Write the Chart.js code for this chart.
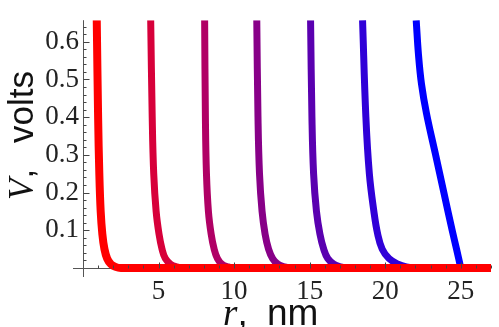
<!DOCTYPE html>
<html lang="en">
<head>
  <meta charset="UTF-8" />
  <title>V versus r</title>
  <script src="https://cdn.jsdelivr.net/npm/chart.js"></script>
  <style>
    html, body { margin: 0; padding: 0; background: #fff; }
    #potentialChart { display: block; }
  </style>
</head>
<body>
  <canvas id="potentialChart" width="499" height="327"></canvas>

  <script>
    const vLevels = [0.657, 0.4, 0.25, 0.15, 0.09, 0.05, 0.025, 0.01, 0.003, 0];

    // radius r (nm) of each curve at the voltage levels above
    const rCurve1 = [0.91, 1.0, 1.08, 1.17, 1.28, 1.42, 1.6, 1.85, 2.15, 2.5];
    const rCurve2 = [4.48, 4.58, 4.68, 4.84, 5.03, 5.23, 5.45, 5.8, 6.2, 6.6];
    const rCurve3 = [8.05, 8.1, 8.17, 8.3, 8.48, 8.68, 8.9, 9.2, 9.6, 10.0];
    const rCurve4 = [11.5, 11.58, 11.68, 11.85, 12.05, 12.28, 12.55, 12.9, 13.35, 13.8];
    const rCurve5 = [15.06, 15.15, 15.26, 15.45, 15.68, 15.93, 16.2, 16.6, 17.05, 17.5];
    const rCurve6 = [18.5, 18.72, 18.95, 19.25, 19.5, 19.8, 20.25, 20.85, 21.4, 22.0];

    // the blue curve is read at its own levels
    const vCurve7 = [0.657, 0.566, 0.488, 0.41, 0.306, 0.2, 0.1, 0.05, 0];
    const rCurve7 = [22.05, 22.2, 22.4, 22.73, 23.3, 23.88, 24.43, 24.72, 25.0];

    // flat tail along V = 0 out to the right edge (curves 1-6)
    const rTailEnd = 27;

    const curveColors = ['#ff0000', '#d7003a', '#b00065', '#880088', '#5a00b0', '#3000d8', '#0000ff'];

    const xTickLabels = [5, 10, 15, 20, 25];
    const yTickLabels = [0.1, 0.2, 0.3, 0.4, 0.5, 0.6];

    const xMin = 0, xMax = 27;
    const yMin = 0, yMax = 0.657;

    function toPoints(rs, vs, withTail) {
      const pts = rs.map((r, i) => ({ x: r, y: vs[i] }));
      if (withTail) pts.push({ x: rTailEnd, y: 0 });
      return pts;
    }

    const curves = [
      toPoints(rCurve1, vLevels, true),
      toPoints(rCurve2, vLevels, true),
      toPoints(rCurve3, vLevels, true),
      toPoints(rCurve4, vLevels, true),
      toPoints(rCurve5, vLevels, true),
      toPoints(rCurve6, vLevels, true),
      toPoints(rCurve7, vCurve7, false)
    ];

    // first dataset is drawn on top, so red sits over the baseline
    const datasets = curves.map((pts, i) => ({
      data: pts,
      borderColor: curveColors[i],
      borderWidth: i === 0 ? 8 : 7,
      pointRadius: 0,
      fill: false,
      tension: 0.4,
      clip: { left: 10, top: 0, right: 0, bottom: 10 }
    }));

    const axesPlugin = {
      id: 'mathAxes',
      beforeDatasetsDraw(chart) {
        const { ctx, chartArea, scales: { x, y } } = chart;
        const x0 = Math.round(x.getPixelForValue(0)) + 0.5;
        const y0 = Math.round(y.getPixelForValue(0)) + 0.5;
        ctx.save();
        ctx.strokeStyle = '#555';
        ctx.lineWidth = 1;
        ctx.beginPath();
        ctx.moveTo(chartArea.left - 10, y0);
        ctx.lineTo(chartArea.right, y0);
        ctx.moveTo(x0, chartArea.top);
        ctx.lineTo(x0, chartArea.bottom + 9);
        ctx.stroke();
        ctx.restore();
      },
      afterDatasetsDraw(chart) {
        const { ctx, scales: { x, y } } = chart;
        const x0 = Math.round(x.getPixelForValue(0)) + 0.5;
        const y0 = Math.round(y.getPixelForValue(0)) + 0.5;
        ctx.save();
        ctx.strokeStyle = '#444';
        ctx.lineWidth = 1;
        ctx.beginPath();
        x.ticks.forEach(t => {
          if (t.value <= 0) return;
          const px = Math.round(x.getPixelForValue(t.value)) + 0.5;
          const len = xTickLabels.includes(t.value) ? 6 : 3;
          ctx.moveTo(px, y0);
          ctx.lineTo(px, y0 - len);
        });
        y.ticks.forEach(t => {
          if (t.value <= 0) return;
          const py = Math.round(y.getPixelForValue(t.value)) + 0.5;
          const major = yTickLabels.some(v => Math.abs(v - t.value) < 1e-6);
          ctx.moveTo(x0, py);
          ctx.lineTo(x0 + (major ? 6 : 3), py);
        });
        ctx.stroke();
        ctx.restore();
      },
      afterDraw(chart) {
        const { ctx, chartArea } = chart;
        ctx.save();
        ctx.fillStyle = '#111';
        ctx.textBaseline = 'alphabetic';

        // x title: "r, nm"
        let tx = chartArea.left + 140;
        const ty = 325;
        ctx.font = 'italic 37px "Liberation Serif", "DejaVu Serif", serif';
        ctx.fillText('r', tx, ty);
        tx += ctx.measureText('r').width;
        ctx.font = '37px "Liberation Sans", "DejaVu Sans", sans-serif';
        ctx.fillText(',', tx, ty);
        ctx.fillText('nm', chartArea.left + 184, ty);

        // y title: "V, volts" rotated
        ctx.translate(33, 200);
        ctx.rotate(-Math.PI / 2);
        ctx.font = 'italic 35px "Liberation Serif", "DejaVu Serif", serif';
        ctx.fillText('V', 0, 0);
        const w = ctx.measureText('V').width;
        ctx.font = '35px "Liberation Sans", "DejaVu Sans", sans-serif';
        ctx.fillText(',', w, 0);
        ctx.fillText('volts', 57, 0);
        ctx.restore();
      }
    };

    const ctx = document.getElementById('potentialChart').getContext('2d');

    new Chart(ctx, {
      type: 'line',
      data: { datasets: datasets },
      plugins: [axesPlugin],
      options: {
        responsive: false,
        animation: false,
        devicePixelRatio: 1,
        layout: { padding: { top: 15, right: 0, bottom: 0, left: 0 } },
        plugins: {
          legend: { display: false },
          tooltip: { enabled: false }
        },
        scales: {
          x: {
            type: 'linear',
            min: xMin,
            max: xMax,
            border: { display: false },
            grid: { display: false, drawTicks: false },
            ticks: {
              stepSize: 1,
              autoSkip: false,
              maxRotation: 0,
              includeBounds: false,
              padding: 8,
              color: '#222',
              font: { family: '"Liberation Serif", "DejaVu Serif", serif', size: 27 },
              callback: v => xTickLabels.includes(v) ? String(v) : ''
            },
            afterFit: s => { s.height = 59; }
          },
          y: {
            type: 'linear',
            min: yMin,
            max: yMax,
            border: { display: false },
            grid: { display: false, drawTicks: false },
            ticks: {
              stepSize: 0.02,
              autoSkip: false,
              includeBounds: false,
              padding: 4,
              color: '#222',
              font: { family: '"Liberation Serif", "DejaVu Serif", serif', size: 27 },
              callback: v => {
                const hit = yTickLabels.find(l => Math.abs(l - v) < 1e-6);
                return hit ? hit.toFixed(1) : '';
              }
            },
            afterFit: s => { s.width = 83; }
          }
        }
      }
    });
  </script>
</body>
</html>
